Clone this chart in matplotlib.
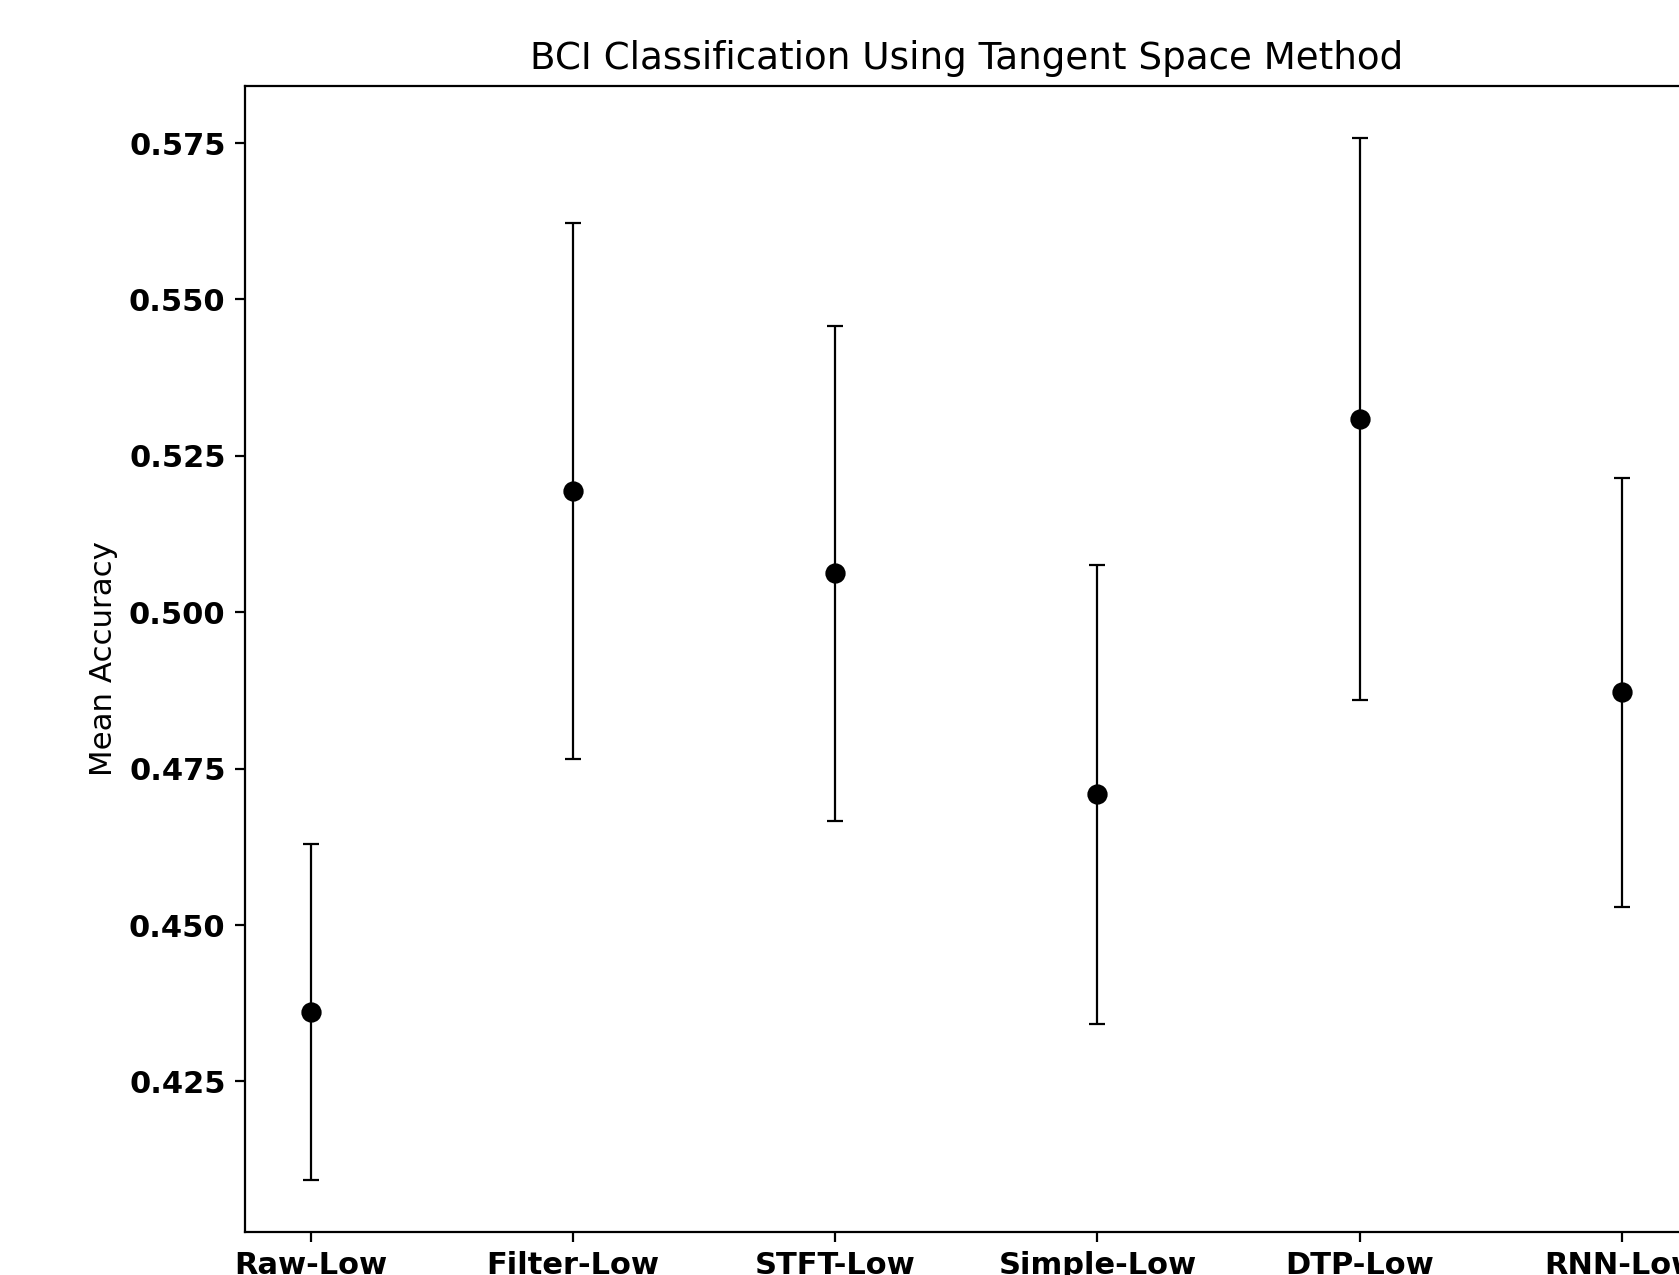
import matplotlib
matplotlib.use("Agg")
import matplotlib.pyplot as plt

categories = ["Raw-Low", "Filter-Low", "STFT-Low", "Simple-Low", "DTP-Low", "RNN-Low"]
mean_acc = [0.4361, 0.5194, 0.5062, 0.4709, 0.5309, 0.4872]
std_err = [0.0268, 0.0428, 0.0396, 0.0367, 0.0449, 0.0343]

fig = plt.figure(figsize=(1679 / 200, 1275 / 200), dpi=200)
ax = fig.add_axes([245 / 1679, 1 - 1231.7 / 1275, 1442.6 / 1679, 1145.7 / 1275])

x = list(range(len(categories)))
ax.errorbar(x, mean_acc, yerr=std_err, fmt="o", color="black", ecolor="black",
            capsize=3, markersize=6.3, elinewidth=0.8, capthick=0.8)
ax.set_xticks(x)
ax.set_xticklabels(categories, fontsize=11, fontweight="bold")
ax.tick_params(axis="y", labelsize=11)
for lbl in ax.get_yticklabels():
    lbl.set_fontweight("bold")
ax.set_ylabel("Mean Accuracy", fontsize=11.1)
ax.set_title("BCI Classification Using Tangent Space Method", fontsize=13.4)

fig.savefig("out.png", dpi=200)
